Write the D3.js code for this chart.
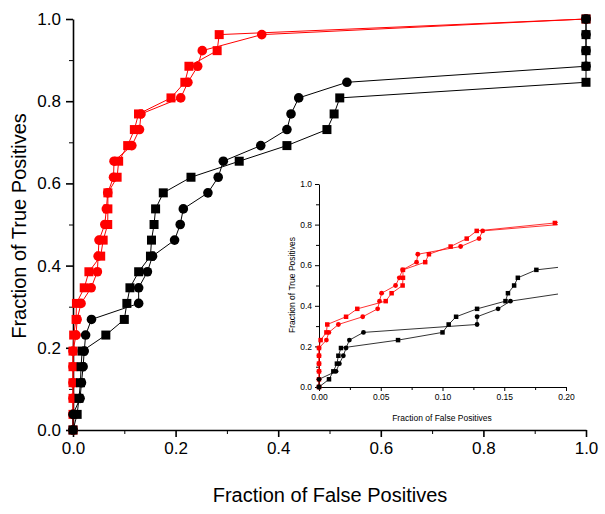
<!DOCTYPE html>
<html>
<head>
<meta charset="utf-8">
<script src="https://cdn.jsdelivr.net/npm/d3@7"></script>
<style>
  body { margin: 0; background: #fff; }
  text { font-family: "Liberation Sans", Arial, sans-serif; }
</style>
</head>
<body>
<div id="container"></div>
<script>
/* DATA */
// true positive fraction steps shared by every curve
const tpr = [0, 0.038, 0.077, 0.115, 0.154, 0.192, 0.231, 0.269, 0.308, 0.346, 0.385, 0.423, 0.462,
  0.5, 0.538, 0.577, 0.615, 0.654, 0.692, 0.731, 0.769, 0.808, 0.846, 0.885, 0.923, 0.962, 1.0];

// false positive fractions, one per tpr step
const redSquares = [0, 0, 0, 0, 0, 0, 0.0013, 0.006, 0.0067, 0.0219, 0.031, 0.054, 0.0588,
  0.0677, 0.068, 0.068, 0.086, 0.089, 0.1066, 0.1196, 0.1277, 0.191, 0.218, 0.226, 0.281, 0.285, 1.0];
const redCircles = [0, 0, 0, 0, 0, 0, 0.006, 0.008, 0.0157, 0.0354, 0.0475, 0.049, 0.0507,
  0.062, 0.065, 0.0677, 0.079, 0.080, 0.1147, 0.1296, 0.1325, 0.21, 0.224, 0.243, 0.252, 0.368, 1.0];
const blackSquares = [0, 0.0081, 0.0116, 0.0145, 0.0157, 0.0178, 0.064, 0.1, 0.105, 0.111, 0.128, 0.151, 0.153,
  0.158, 0.161, 0.176, 0.23, 0.324, 0.417, 0.495, 0.509, 0.52, 1.0, 1.0, 1.0, 1.0, 1.0];
const blackCircles = [0, 0, 0.0138, 0.0165, 0.0197, 0.0219, 0.0246, 0.036, 0.128, 0.128, 0.145, 0.155, 0.198,
  0.209, 0.215, 0.263, 0.283, 0.293, 0.366, 0.417, 0.425, 0.44, 0.534, 1.0, 1.0, 1.0, 1.0];

const mainXTicks = [0, 0.2, 0.4, 0.6, 0.8, 1.0];
const mainYTicks = [0, 0.2, 0.4, 0.6, 0.8, 1.0];
const insetXTicks = [0, 0.05, 0.1, 0.15, 0.2];
const insetYTicks = [0, 0.2, 0.4, 0.6, 0.8, 1.0];

const series = [
  {name: "redCircles", xs: redCircles, color: "#ff0000", shape: "circle"},
  {name: "redSquares", xs: redSquares, color: "#ff0000", shape: "square"},
  {name: "blackCircles", xs: blackCircles, color: "#000000", shape: "circle"},
  {name: "blackSquares", xs: blackSquares, color: "#000000", shape: "square"}
];

/* SVG */
const width = 605, height = 514;
const svg = d3.select("#container").append("svg")
  .attr("width", width)
  .attr("height", height);

function drawPanel(opt) {
  const g = svg.append("g");
  const x = d3.scaleLinear().domain(opt.xDomain).range(opt.xRange);
  const y = d3.scaleLinear().domain([0, 1]).range(opt.yRange);

  // minor ticks
  g.append("g")
    .attr("transform", "translate(0," + opt.yRange[0] + ")")
    .call(d3.axisBottom(x).tickValues(opt.xMinor).tickSize(opt.minorLen).tickFormat(""))
    .call(s => s.select(".domain").remove());
  g.append("g")
    .attr("transform", "translate(" + opt.xRange[0] + ",0)")
    .call(d3.axisLeft(y).tickValues(opt.yMinor).tickSize(opt.minorLen).tickFormat(""))
    .call(s => s.select(".domain").remove());

  const xAxis = g.append("g")
    .attr("transform", "translate(0," + opt.yRange[0] + ")")
    .call(d3.axisBottom(x).tickValues(opt.xTicks).tickSize(opt.majorLen).tickSizeOuter(0)
      .tickPadding(opt.pad).tickFormat(d3.format(opt.xFmt)));
  const yAxis = g.append("g")
    .attr("transform", "translate(" + opt.xRange[0] + ",0)")
    .call(d3.axisLeft(y).tickValues(opt.yTicks).tickSize(opt.majorLen).tickSizeOuter(0)
      .tickPadding(opt.pad).tickFormat(d3.format(".1f")));
  [xAxis, yAxis].forEach(a => {
    a.selectAll("text").style("font-size", opt.font + "px").attr("fill", "#000");
    a.selectAll("line, path").attr("stroke", "#000").attr("stroke-width", opt.axisW);
  });

  // clip data to plot area
  g.append("clipPath").attr("id", "clip-" + opt.id)
    .append("rect")
    .attr("x", opt.xRange[0] - 8).attr("y", opt.yRange[1] - 8)
    .attr("width", opt.xRange[1] - opt.xRange[0] + 8 + opt.clipRight)
    .attr("height", opt.yRange[0] - opt.yRange[1] + 16);
  const plot = g.append("g").attr("clip-path", "url(#clip-" + opt.id + ")");

  const line = d3.line().x(d => x(d[0])).y(d => y(d[1]));
  series.forEach(s => {
    const pts = s.xs.map((v, i) => [v, tpr[i]]);
    plot.append("path")
      .datum(pts)
      .attr("d", line)
      .attr("fill", "none")
      .attr("stroke", s.color)
      .attr("stroke-width", opt.lineW);
    const visible = pts.filter(p => p[0] <= opt.xDomain[1] + 1e-9);
    if (s.shape === "circle") {
      plot.selectAll("circle." + s.name)
        .data(visible)
        .join("circle")
        .attr("class", s.name)
        .attr("cx", d => x(d[0]))
        .attr("cy", d => y(d[1]))
        .attr("r", opt.markR)
        .attr("fill", s.color);
    } else {
      plot.selectAll("rect." + s.name)
        .data(visible)
        .join("rect")
        .attr("class", s.name)
        .attr("x", d => x(d[0]) - opt.markS / 2)
        .attr("y", d => y(d[1]) - opt.markS / 2)
        .attr("width", opt.markS)
        .attr("height", opt.markS)
        .attr("fill", s.color);
    }
  });

  // titles
  g.append("text")
    .attr("x", opt.xTitle[0]).attr("y", opt.xTitle[1])
    .attr("text-anchor", "middle")
    .style("font-size", opt.titleFont + "px")
    .text("Fraction of False Positives");
  g.append("text")
    .attr("transform", "translate(" + opt.yTitle[0] + "," + opt.yTitle[1] + ") rotate(-90)")
    .attr("text-anchor", "middle")
    .style("font-size", opt.titleFont + "px")
    .text("Fraction of True Positives");
}

// main chart
drawPanel({
  id: "main",
  xDomain: [0, 1], xRange: [73, 586], yRange: [430, 19],
  xTicks: mainXTicks, yTicks: mainYTicks,
  xMinor: [0.1, 0.3, 0.5, 0.7, 0.9], yMinor: [0.1, 0.3, 0.5, 0.7, 0.9],
  xFmt: ".1f", majorLen: 7, minorLen: 4, pad: 5, font: 17, axisW: 1.6,
  lineW: 1, markR: 4.8, markS: 9, clipRight: 20,
  xTitle: [330, 502], yTitle: [26, 226], titleFont: 20
});

// inset
drawPanel({
  id: "inset",
  xDomain: [0, 0.2], xRange: [319, 566], yRange: [387, 184],
  xTicks: insetXTicks, yTicks: insetYTicks,
  xMinor: [0.025, 0.075, 0.125, 0.175], yMinor: [0.1, 0.3, 0.5, 0.7, 0.9],
  xFmt: ".2f", majorLen: 4, minorLen: 3, pad: 3, font: 8.5, axisW: 1,
  lineW: 0.8, markR: 2.4, markS: 4.5, clipRight: -8,
  xTitle: [442, 421], yTitle: [295, 285], titleFont: 8.5
});
</script>
</body>
</html>
